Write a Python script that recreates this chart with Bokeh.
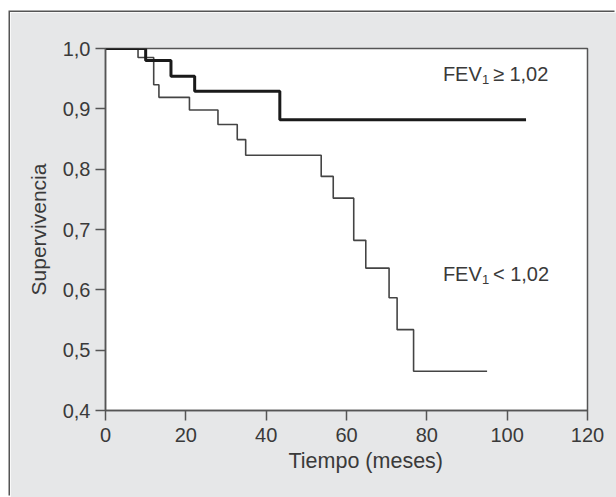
from bokeh.plotting import figure
from bokeh.models import Range1d, FixedTicker, CustomJSTickFormatter, Title
from bokeh.core.properties import value
from bokeh.embed import file_html
from bokeh.resources import INLINE

# Kaplan-Meier survival, FEV1 >= 1,02 (thick) and FEV1 < 1,02 (thin)
t_hi = [0, 10.0, 16.3, 22.2, 43.4, 104.7]
s_hi = [1.0, 0.980, 0.954, 0.929, 0.882, 0.882]

t_lo = [0, 8.1, 12.0, 13.3, 20.9, 28.0, 32.8, 34.9, 53.7, 56.7, 61.8, 64.8, 70.6, 72.6, 76.7, 95.0]
s_lo = [1.0, 0.985, 0.940, 0.919, 0.898, 0.874, 0.849, 0.823, 0.788, 0.752, 0.682, 0.636, 0.587, 0.534, 0.465, 0.465]

x_ticks = [0, 20, 40, 60, 80, 100, 120]
y_ticks = [0.4, 0.5, 0.6, 0.7, 0.8, 0.9, 1.0]

label_hi = ["FEV", "1", "\u2265 1,02"]
label_lo = ["FEV", "1", "< 1,02"]
x_title = "Tiempo (meses)"
y_title = "Supervivencia"

FONT = "Liberation Sans"
TXT = "#3a3a3a"
AX = "#555555"
BG = "#e6e7e8"

p = figure(frame_width=482, frame_height=362,
           min_border_left=95, min_border_right=29,
           min_border_top=36, min_border_bottom=87,
           x_range=Range1d(0, 120), y_range=Range1d(0.4, 1.0),
           output_backend="svg", toolbar_location=None,
           background_fill_color="white", border_fill_color=BG,
           margin=(12, 0, 0, 10))
p.styles = {"box-shadow": "-1.5px -1.5px 0 0 #555555"}

p.grid.visible = False
p.outline_line_color = AX
p.outline_line_width = 1.5

for ax in (p.xaxis[0], p.yaxis[0]):
    ax.axis_line_color = AX
    ax.axis_line_width = 1.5
    ax.major_tick_line_color = AX
    ax.major_tick_line_width = 1.5
    ax.major_tick_out = 10
    ax.major_tick_in = 0
    ax.minor_tick_line_color = None
    ax.major_label_text_font = FONT
    ax.major_label_text_font_size = "20px"
    ax.major_label_text_color = TXT
    ax.axis_label_text_font = FONT
    ax.axis_label_text_font_size = "21px"
    ax.axis_label_text_font_style = "normal"
    ax.axis_label_text_color = TXT

p.xaxis.ticker = FixedTicker(ticks=x_ticks)
p.yaxis.ticker = FixedTicker(ticks=y_ticks)
p.yaxis.formatter = CustomJSTickFormatter(code="return tick.toFixed(1).replace('.', ',');")
p.xaxis.major_label_standoff = 7
p.yaxis.major_label_standoff = 5
p.yaxis.axis_label = y_title
p.yaxis.axis_label_standoff = 10

# x-axis title, slightly right of the frame centre as in the original
p.add_layout(Title(text=x_title, text_font=FONT, text_font_size="21.5px",
                   text_font_style="normal", text_color=TXT,
                   align="left", offset=183, standoff=5), "below")

p.step(t_lo, s_lo, mode="after", line_color="#444444", line_width=1.6)
p.step(t_hi, s_hi, mode="after", line_color="#1a1a1a", line_width=3)

def fev_label(x, y, parts):
    p.text([x], [y], text=[parts[0]], text_font=value(FONT), text_font_size="20px",
           text_color=TXT, text_baseline="alphabetic", text_align="left")
    p.text([x], [y], text=[parts[1]], text_font=value(FONT), text_font_size="13px",
           text_color=TXT, text_baseline="alphabetic", text_align="left",
           x_offset=39, y_offset=6)
    p.text([x], [y], text=[parts[2]], text_font=value(FONT), text_font_size="20px",
           text_color=TXT, text_baseline="alphabetic", text_align="left",
           x_offset=50)

fev_label(84, 0.958, label_hi)
fev_label(84, 0.627, label_lo)

open("out.html", "w").write(file_html(p, INLINE))
